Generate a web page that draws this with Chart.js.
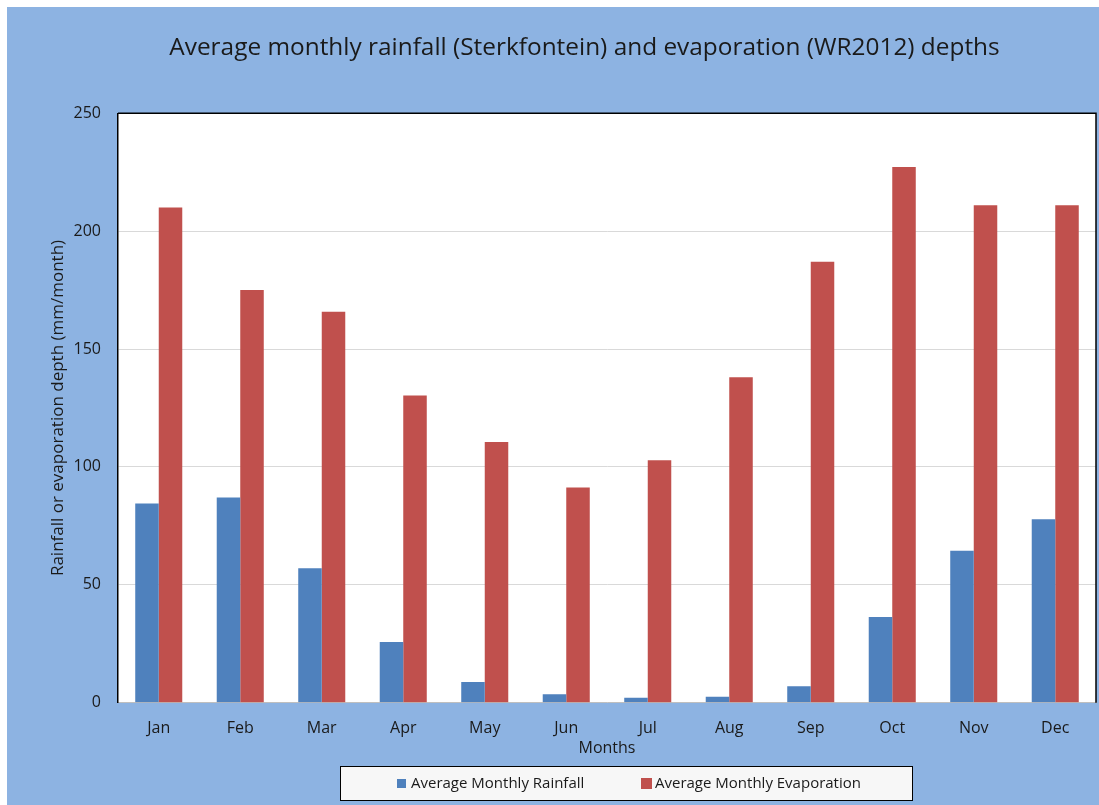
<!DOCTYPE html>
<html>
<head>
<meta charset="utf-8">
<script src="https://cdn.jsdelivr.net/npm/chart.js@4"></script>
<style>
  html, body { margin: 0; padding: 0; background: #ffffff; }
  #wrap { position: absolute; left: 7px; top: 7px; width: 1092px; height: 798px; background: #8DB3E2; }
</style>
</head>
<body>
<div id="wrap"><canvas id="rainChart" width="1092" height="798"></canvas></div>
<script>
const months = ['Jan', 'Feb', 'Mar', 'Apr', 'May', 'Jun', 'Jul', 'Aug', 'Sep', 'Oct', 'Nov', 'Dec'];
const rainfall = [84.5, 87, 57, 25.7, 8.8, 3.6, 2.1, 2.5, 7, 36.4, 64.4, 77.8];
const evaporation = [210, 175, 165.8, 130.3, 110.6, 91.3, 102.8, 138, 187, 227.2, 211, 211];
const yTicks = [0, 50, 100, 150, 200, 250];

const FONT = "'Open Sans', sans-serif";

// white plot area plus black frame on top and right;
// the title block is nudged right so it sits over the plot
const plotFrame = {
    id: 'plotFrame',
    afterLayout(chart) {
        if (chart.titleBlock) chart.titleBlock.left += 66;
    },
    beforeDraw(chart) {
        const {ctx, chartArea: a} = chart;
        ctx.save();
        ctx.fillStyle = '#ffffff';
        ctx.fillRect(a.left, a.top, a.right - a.left, a.bottom - a.top);
        ctx.restore();
    },
    afterDraw(chart) {
        const {ctx, chartArea: a} = chart;
        ctx.save();
        ctx.strokeStyle = '#000000';
        ctx.lineWidth = 1.5;
        ctx.beginPath();
        ctx.moveTo(a.left, a.top);
        ctx.lineTo(a.right, a.top);
        ctx.lineTo(a.right, a.bottom);
        ctx.stroke();
        ctx.restore();
    }
};

// boxed legend under the axis
const boxLegend = {
    id: 'boxLegend',
    afterDraw(chart) {
        const ctx = chart.ctx;
        const box = {x: 333.5, y: 759.5, w: 572, h: 34};
        const items = [
            {sq: 9, sqX: 390, textX: 404},
            {sq: 11, sqX: 634, textX: 648}
        ];
        ctx.save();
        ctx.fillStyle = '#F7F7F7';
        ctx.fillRect(box.x, box.y, box.w, box.h);
        ctx.strokeStyle = '#000000';
        ctx.lineWidth = 1;
        ctx.strokeRect(box.x, box.y, box.w, box.h);
        const cy = box.y + box.h / 2;
        ctx.font = '15px ' + FONT;
        ctx.textBaseline = 'middle';
        ctx.textAlign = 'left';
        chart.data.datasets.forEach((ds, i) => {
            const it = items[i];
            ctx.fillStyle = ds.backgroundColor;
            ctx.fillRect(it.sqX, cy - it.sq / 2, it.sq, it.sq);
            ctx.fillStyle = '#1a1a1a';
            ctx.fillText(ds.label, it.textX, cy);
        });
        ctx.restore();
    }
};

new Chart(document.getElementById('rainChart'), {
    type: 'bar',
    data: {
        labels: months,
        datasets: [
            {
                label: 'Average Monthly Rainfall',
                data: rainfall,
                backgroundColor: '#4F81BD'
            },
            {
                label: 'Average Monthly Evaporation',
                data: evaporation,
                backgroundColor: '#C0504D'
            }
        ]
    },
    options: {
        responsive: false,
        animation: false,
        layout: {
            padding: {left: 0, right: 3, top: 0, bottom: 39}
        },
        datasets: {
            bar: {
                categoryPercentage: 0.577,
                barPercentage: 1.0
            }
        },
        plugins: {
            legend: {display: false},
            tooltip: {enabled: false},
            title: {
                display: true,
                text: 'Average monthly rainfall (Sterkfontein) and evaporation (WR2012) depths',
                color: '#1a1a1a',
                font: {family: FONT, size: 24.4, weight: 'normal'},
                padding: {top: 26.4, bottom: 50.6}
            }
        },
        scales: {
            x: {
                grid: {display: false, drawTicks: false},
                border: {display: true, color: '#BFBFBF', width: 1},
                ticks: {
                    color: '#1a1a1a',
                    font: {family: FONT, size: 16},
                    padding: 16
                },
                title: {
                    display: true,
                    text: 'Months',
                    color: '#1a1a1a',
                    font: {family: FONT, size: 16},
                    padding: {top: 0, bottom: 8}
                },
                afterFit(scale) { scale.height = 63.3; }
            },
            y: {
                min: 0,
                max: 250,
                afterBuildTicks(scale) {
                    scale.ticks = yTicks.map(v => ({value: v}));
                },
                grid: {color: '#D9D9D9', lineWidth: 1, drawTicks: false},
                border: {display: true, color: '#000000', width: 1.5},
                ticks: {
                    color: '#1a1a1a',
                    font: {family: FONT, size: 16},
                    padding: 17
                },
                title: {
                    display: true,
                    text: 'Rainfall or evaporation depth (mm/month)',
                    color: '#1a1a1a',
                    font: {family: FONT, size: 17},
                    padding: {top: 41, bottom: 0}
                },
                afterFit(scale) { scale.width = 111; }
            }
        }
    },
    plugins: [plotFrame, boxLegend]
});
</script>
</body>
</html>
